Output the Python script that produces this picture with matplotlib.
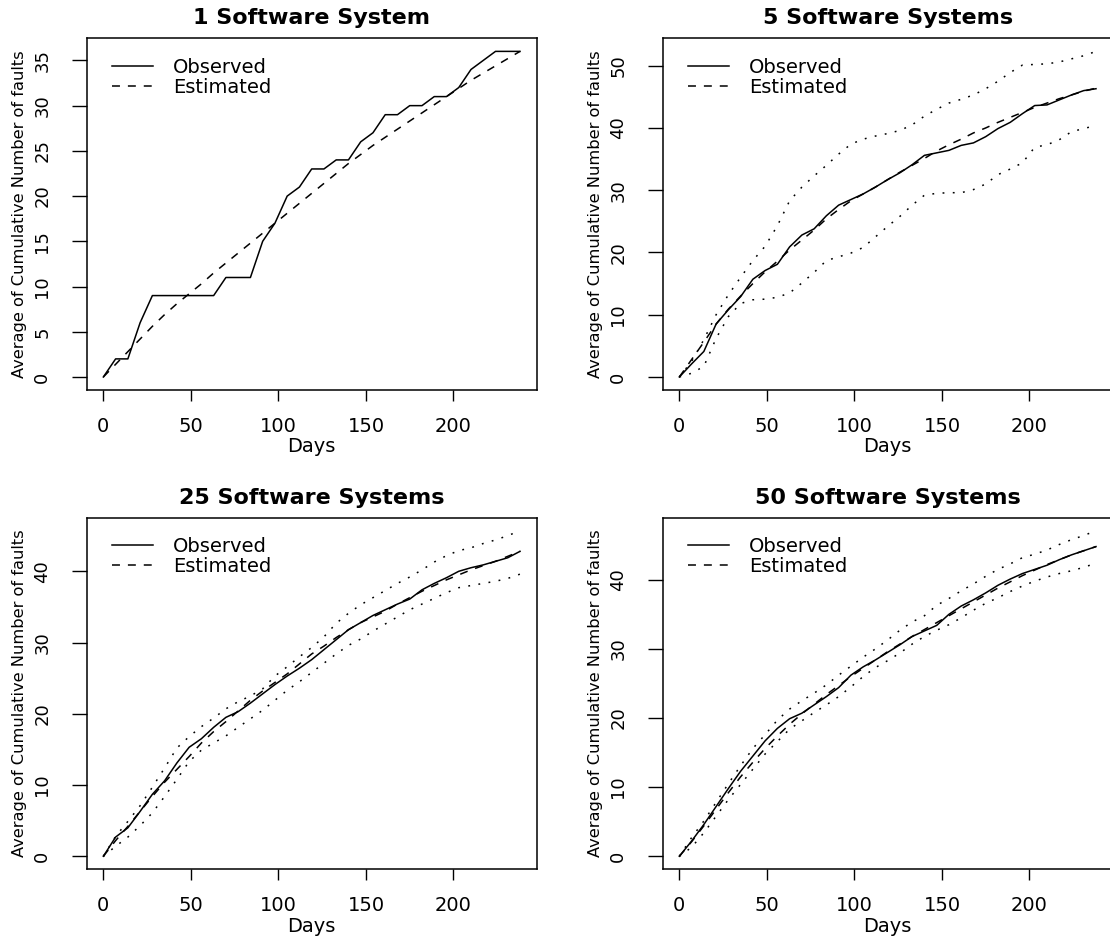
import matplotlib

matplotlib.use("Agg")
import matplotlib.pyplot as plt

# weekly observation days
days = [0, 7, 14, 21, 28, 35, 42, 49, 56, 63, 70, 77, 84, 91, 98, 105, 112, 119,
        126, 133, 140, 147, 154, 161, 168, 175, 182, 189, 196, 203, 210, 217, 224, 231, 238]

# 1 software system
observed_1 = [0, 2, 2, 6, 9, 9, 9, 9, 9, 9, 11, 11, 11, 15, 17, 20, 21, 23, 23, 24, 24,
              26, 27, 29, 29, 30, 30, 31, 31, 32, 34, 35, 36, 36, 36]
estimated_1 = [0, 1.4, 2.8, 4.2, 5.6, 6.9, 8.1, 9.2, 10.3, 11.5, 12.6, 13.7, 14.8, 15.9,
               17.0, 18.1, 19.2, 20.3, 21.4, 22.5, 23.6, 24.6, 25.6, 26.5, 27.4, 28.3,
               29.2, 30.1, 31.0, 31.9, 32.8, 33.6, 34.4, 35.2, 36.0]

# 5 software systems
observed_5 = [0, 2.1, 4.1, 8.5, 10.8, 12.9, 15.7, 17.1, 18.1, 20.9, 22.8, 23.8, 25.9, 27.6,
              28.5, 29.4, 30.5, 31.7, 32.8, 34.1, 35.6, 36.0, 36.4, 37.2, 37.6, 38.6, 39.9,
              40.9, 42.3, 43.6, 43.7, 44.5, 45.3, 46.0, 46.3]
estimated_5 = [0, 2.8, 5.6, 8.5, 10.9, 13.0, 15.0, 16.9, 18.6, 20.4, 22.0, 23.6, 25.4, 26.9,
               28.3, 29.4, 30.5, 31.7, 32.9, 34.0, 35.1, 36.3, 37.3, 38.2, 39.2, 40.0, 40.9,
               41.7, 42.5, 43.3, 44.0, 44.7, 45.3, 45.9, 46.4]
upper_5 = [0, 2.5, 6.0, 10.0, 13.2, 16.0, 18.7, 21.0, 24.3, 28.3, 30.5, 32.3, 34.0, 35.8,
           37.4, 38.2, 38.7, 39.1, 39.6, 40.5, 41.9, 43.0, 44.0, 44.6, 45.3, 46.3, 47.5,
           48.9, 50.1, 50.2, 50.3, 50.6, 51.1, 51.6, 52.3]
lower_5 = [0, 0.6, 1.7, 6.2, 9.7, 11.8, 12.4, 12.5, 12.8, 13.5, 15.1, 16.8, 18.7, 19.3,
           19.9, 20.8, 22.5, 24.2, 25.8, 27.6, 29.2, 29.5, 29.6, 29.6, 30.1, 31.0, 32.5,
           33.4, 34.4, 36.9, 37.3, 38.1, 39.4, 39.9, 40.4]

# 25 software systems
observed_25 = [0, 2.7, 4.0, 6.3, 8.7, 10.6, 13.1, 15.3, 16.5, 18.1, 19.5, 20.3, 21.5, 22.8,
               24.1, 25.3, 26.4, 27.6, 29.0, 30.4, 31.8, 32.8, 33.8, 34.6, 35.4, 36.1, 37.4,
               38.3, 39.1, 40.0, 40.5, 40.9, 41.4, 41.9, 42.8]
estimated_25 = [0, 2.2, 4.2, 6.3, 8.4, 10.4, 12.2, 14.0, 15.9, 17.5, 18.9, 20.4, 21.9, 23.2,
                24.4, 25.6, 27.0, 28.4, 29.5, 30.7, 31.8, 32.8, 33.6, 34.4, 35.4, 36.3, 37.2,
                38.0, 38.8, 39.5, 40.2, 40.8, 41.4, 42.1, 42.8]
upper_25 = [0, 2.8, 4.9, 7.1, 9.7, 12.4, 15.2, 16.8, 18.2, 19.4, 20.7, 21.7, 22.5, 23.5,
            25.3, 26.6, 28.0, 29.3, 30.8, 32.7, 34.1, 35.3, 36.3, 37.3, 38.3, 39.2, 40.2,
            41.3, 42.2, 42.9, 43.3, 43.9, 44.4, 45.0, 45.7]
lower_25 = [0, 1.4, 2.7, 4.3, 6.1, 8.4, 10.8, 13.3, 14.9, 15.9, 16.9, 18.1, 19.3, 20.5,
            21.9, 23.3, 24.5, 25.8, 27.1, 28.4, 29.6, 30.5, 31.6, 32.6, 33.6, 34.6, 35.4,
            36.2, 37.0, 37.7, 38.0, 38.3, 38.6, 39.0, 39.6]

# 50 software systems
observed_50 = [0, 2.2, 4.6, 7.2, 9.8, 12.3, 14.5, 16.7, 18.5, 19.9, 20.7, 21.9, 23.1, 24.4,
               26.2, 27.4, 28.4, 29.5, 30.6, 31.8, 32.6, 33.4, 35.0, 36.2, 37.1, 38.1, 39.2,
               40.1, 40.9, 41.5, 42.1, 42.9, 43.6, 44.2, 44.8]
estimated_50 = [0, 2.1, 4.4, 6.8, 9.2, 11.5, 13.6, 15.6, 17.4, 19.1, 20.6, 22.0, 23.4, 24.7,
                26.0, 27.2, 28.4, 29.6, 30.7, 31.8, 32.8, 33.8, 34.8, 35.8, 36.8, 37.8, 38.8,
                39.7, 40.6, 41.4, 42.2, 42.9, 43.6, 44.2, 44.8]
upper_50 = [0, 2.7, 5.1, 7.8, 10.5, 13.1, 15.6, 17.6, 19.7, 21.3, 22.5, 23.6, 24.8, 26.2,
            27.5, 28.8, 30.0, 31.3, 32.7, 33.9, 34.8, 36.3, 37.3, 38.4, 39.4, 40.5, 41.5,
            42.3, 43.2, 43.7, 44.3, 45.1, 45.8, 46.4, 47.1]
lower_50 = [0, 1.3, 3.4, 5.8, 8.2, 10.4, 12.6, 14.8, 16.6, 18.4, 19.6, 20.8, 21.9, 23.1,
            24.5, 26.0, 27.3, 28.3, 29.4, 30.7, 31.8, 32.7, 33.5, 34.5, 35.6, 36.6, 37.4,
            38.3, 39.1, 39.8, 40.4, 40.9, 41.3, 41.8, 42.4]

x_ticks = [0, 50, 100, 150, 200]

LW = 1.1
DASHED = (0, (5.2, 5.2))
DOTTED = (0, (1.2, 5.5))


def draw_panel(fig, rect, title, observed, estimated, y_ticks, upper=None, lower=None):
    ax = fig.add_axes(rect)
    ax.plot(days, observed, color="black", lw=LW, label="Observed")
    ax.plot(days, estimated, color="black", lw=LW, linestyle=DASHED, label="Estimated")
    if upper is not None:
        ax.plot(days, upper, color="black", lw=LW, linestyle=DOTTED)
        ax.plot(days, lower, color="black", lw=LW, linestyle=DOTTED)

    # R-style 4% padding around the data range
    ax.margins(x=0.04, y=0.04)
    ax.set_xticks(x_ticks)
    ax.set_yticks(y_ticks)
    ax.tick_params(axis="x", direction="out", length=8, width=1.0, labelsize=14, pad=11.5)
    ax.tick_params(axis="y", direction="out", length=10.5, width=1.0, labelsize=13, pad=15)
    for lab in ax.get_yticklabels():
        lab.set_rotation(90)
        lab.set_va("center")
    for spine in ax.spines.values():
        spine.set_linewidth(1.1)

    ax.set_title(title, fontsize=16, fontweight="bold", pad=10)
    ax.set_xlabel("Days", fontsize=14, labelpad=1)
    ax.set_ylabel("Average of Cumulative Number of faults", fontsize=11.7, va="center")
    ax.yaxis.set_label_coords(-0.149, 0.5)

    ax.legend(loc="upper left", bbox_to_anchor=(0.0556, 0.945), frameon=False,
              fontsize=14, handlelength=2.11, handletextpad=1.06, labelspacing=0.05,
              borderaxespad=0, borderpad=0)
    return ax


def main():
    fig = plt.figure(figsize=(11.1, 9.4), dpi=100)
    left_a, left_b, width = 0.0781, 0.5970, 0.4054
    top_row, bottom_row, height = 0.5851, 0.0752, 0.3741

    draw_panel(fig, [left_a, top_row, width, height], "1 Software System",
               observed_1, estimated_1, [0, 5, 10, 15, 20, 25, 30, 35])
    draw_panel(fig, [left_b, top_row, width, height], "5 Software Systems",
               observed_5, estimated_5, [0, 10, 20, 30, 40, 50], upper_5, lower_5)
    draw_panel(fig, [left_a, bottom_row, width, height], "25 Software Systems",
               observed_25, estimated_25, [0, 10, 20, 30, 40], upper_25, lower_25)
    draw_panel(fig, [left_b, bottom_row, width, height], "50 Software Systems",
               observed_50, estimated_50, [0, 10, 20, 30, 40], upper_50, lower_50)

    fig.savefig("out.png", dpi=100)


if __name__ == "__main__":
    main()
